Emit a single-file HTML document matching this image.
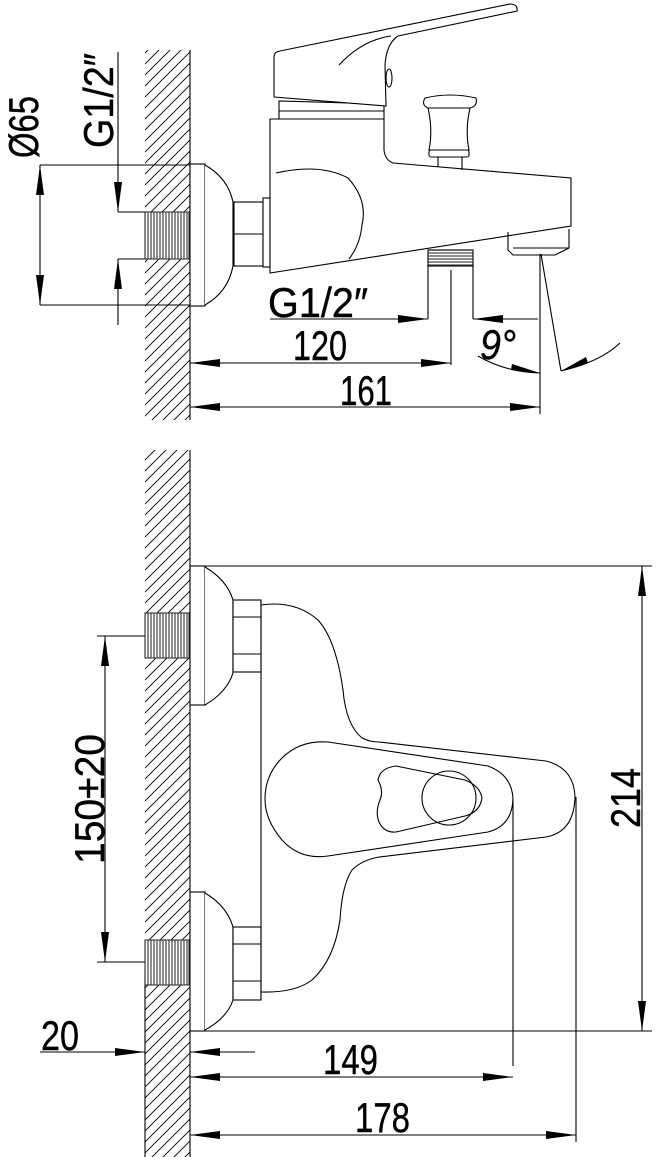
<!DOCTYPE html>
<html><head><meta charset="utf-8"><style>
html,body{margin:0;padding:0;background:#fff;}
svg{display:block;}
text{font-family:"Liberation Sans Narrow","Liberation Sans",sans-serif;fill:#000;stroke:#000;stroke-width:0.4;}
</style></head><body>
<svg width="657" height="1157" viewBox="0 0 657 1157" xmlns="http://www.w3.org/2000/svg">
<defs>
<pattern id="hatch" patternUnits="userSpaceOnUse" width="11" height="11">
<path d="M-1,12 L12,-1 M-6,6 L6,-6 M5,17 L17,5" stroke="#000" stroke-width="0.9"/>
</pattern>
<pattern id="thr" patternUnits="userSpaceOnUse" width="3" height="3">
<rect width="3" height="3" fill="#fff"/>
<path d="M1,0 V3" stroke="#444" stroke-width="1.2"/>
</pattern>
<pattern id="thrh" patternUnits="userSpaceOnUse" width="3" height="3">
<rect width="3" height="3" fill="#fff"/>
<path d="M0,1 H3" stroke="#444" stroke-width="1.2"/>
</pattern>
<marker id="ar" viewBox="0 0 30 8" refX="30" refY="4" markerWidth="30" markerHeight="8" markerUnits="userSpaceOnUse" orient="auto-start-reverse">
<path d="M0,0 L30,4 L0,8 Z" fill="#000"/>
</marker>
</defs>

<g fill="none" stroke="#000" stroke-width="1.1">
<!-- ===== TOP VIEW ===== -->
<rect x="145" y="50" width="45" height="370" fill="url(#hatch)" stroke="none"/>
<line x1="190" y1="50" x2="190" y2="420"/>
<rect x="145" y="212" width="44" height="47" fill="url(#thr)" stroke="#333"/>
<rect x="190" y="164" width="15" height="142" fill="#fff"/>
<path d="M205,165 Q228,178 233,202 L233,266 Q228,292 205,305" fill="#fff"/>
<rect x="234" y="202" width="29" height="64" fill="#fff"/>
<line x1="234" y1="234" x2="263" y2="234"/>
<rect x="263" y="198" width="7" height="69" fill="#fff"/>
<path d="M270,119 L270,273 L571,226 L571,178 L393,163 Q385,160 384,150 L384,119 Z" fill="#fff"/>
<path d="M276,173 Q320,163 348,178 Q368,200 362,225 Q360,245 349,259"/>
<path d="M279,119 L279,101 L384,104 L384,119"/>
<line x1="279" y1="111" x2="384" y2="111"/>
<path d="M274,97 L274,57 Q274,52 280,51 L510,4 Q518,4 517,11 L398,36 Q386,44 385,66 L386,106 Z" fill="#fff"/>
<path d="M339,65 Q362,40 391,36"/>
<ellipse cx="389" cy="78" rx="3" ry="9"/>
<path d="M425,98 Q450,92 476,98 Q478,106 470,108 L428,108 Q421,105 425,98 Z" fill="#fff"/>
<path d="M428,108 Q433,130 429,150 L469,150 Q465,130 470,108"/>
<rect x="429" y="150" width="40" height="7" rx="2"/>
<path d="M438,157 V167 M462,157 V170"/>
<rect x="428" y="250" width="45" height="16" fill="url(#thrh)"/>
<path d="M428,266 V319 M473,266 V319"/>
<line x1="451" y1="270" x2="451" y2="365"/>
<path d="M508,232 L508,250 L513,255 L555,255 L569,248 L569,229"/>
<line x1="513" y1="248" x2="569" y2="248"/>
<line x1="540" y1="254" x2="540" y2="414"/>
<line x1="541" y1="254" x2="561" y2="371"/>
<path d="M478,356 Q505,372 540,373 M561,371 Q600,362 620,343"/>
<polygon points="540,373 512,364 511,370" fill="#000" stroke="none"/>
<polygon points="561,371 586,357 588,363" fill="#000" stroke="none"/>
<line x1="270" y1="319" x2="428" y2="319" marker-end="url(#ar)"/>
<line x1="538" y1="319" x2="473" y2="319" marker-end="url(#ar)"/>
<line x1="190" y1="363" x2="451" y2="363" marker-start="url(#ar)" marker-end="url(#ar)"/>
<line x1="190" y1="407" x2="540" y2="407" marker-start="url(#ar)" marker-end="url(#ar)"/>
<line x1="40" y1="165" x2="190" y2="165"/>
<line x1="40" y1="305" x2="190" y2="305"/>
<line x1="40" y1="165" x2="40" y2="305" marker-start="url(#ar)" marker-end="url(#ar)"/>
<line x1="118" y1="52" x2="118" y2="212" marker-end="url(#ar)"/>
<line x1="118" y1="325" x2="118" y2="259" marker-end="url(#ar)"/>
<line x1="118" y1="212" x2="145" y2="212"/>
<line x1="118" y1="259" x2="145" y2="259"/>

<!-- ===== BOTTOM VIEW ===== -->
<rect x="145" y="450" width="45" height="707" fill="url(#hatch)" stroke="none"/>
<line x1="190" y1="450" x2="190" y2="1157"/>
<line x1="145" y1="970" x2="145" y2="1157"/>
<rect x="145" y="613" width="44" height="45" fill="url(#thr)" stroke="#333"/>
<rect x="145" y="940" width="44" height="45" fill="url(#thr)" stroke="#333"/>
<line x1="190" y1="566" x2="652" y2="566"/>
<line x1="190" y1="1031" x2="652" y2="1031"/>
<rect x="190" y="566" width="15" height="139" fill="#fff"/>
<path d="M205,567 Q227,580 233,600 L233,673 Q227,692 205,705" fill="#fff"/>
<rect x="190" y="892" width="15" height="139" fill="#fff"/>
<path d="M205,893 Q227,906 233,927 L233,1000 Q227,1018 205,1030" fill="#fff"/>
<rect x="233" y="600" width="28" height="72"/>
<path d="M233,617 H261 M233,654 H261"/>
<rect x="233" y="927" width="28" height="73"/>
<path d="M233,944 H261 M233,981 H261"/>
<line x1="261" y1="600" x2="261" y2="999"/>
<path d="M261,605 Q295,600 318,620 Q336,640 343,690 Q346,725 362,738 Q370,742 379,742 L546,761 Q574,768 575,797 Q574,832 546,837 L379,857 Q362,860 352,870 Q342,885 340,920 Q334,960 312,980 Q295,993 261,992"/>
<path d="M328,742 L488,766 Q512,775 513,799 Q512,826 488,832 L328,856 Q300,860 282,840 Q265,820 265,799 Q265,775 282,758 Q300,740 328,742 Z"/>
<path d="M396,766 L465,780 Q480,786 482,798 Q480,812 465,816 L396,832 Q384,833 379,822 Q375,812 380,800 Q384,791 378,780 Q380,768 396,766 Z"/>
<circle cx="449" cy="798" r="27"/>
<line x1="513" y1="799" x2="513" y2="1066"/>
<line x1="576" y1="797" x2="576" y2="1142"/>
<line x1="642" y1="566" x2="642" y2="1031" marker-start="url(#ar)" marker-end="url(#ar)"/>
<line x1="97" y1="636" x2="145" y2="636"/>
<line x1="97" y1="962" x2="145" y2="962"/>
<line x1="105" y1="636" x2="105" y2="962" marker-start="url(#ar)" marker-end="url(#ar)"/>
<line x1="40" y1="1052" x2="145" y2="1052" marker-end="url(#ar)"/>
<line x1="255" y1="1052" x2="190" y2="1052" marker-end="url(#ar)"/>
<line x1="190" y1="1077" x2="513" y2="1077" marker-start="url(#ar)" marker-end="url(#ar)"/>
<line x1="190" y1="1135" x2="576" y2="1135" marker-start="url(#ar)" marker-end="url(#ar)"/>
</g>

<g font-size="42">
<text x="268" y="317" textLength="100" lengthAdjust="spacingAndGlyphs">G1/2″</text>
<text x="293" y="360" textLength="54" lengthAdjust="spacingAndGlyphs">120</text>
<text x="340" y="405" textLength="52" lengthAdjust="spacingAndGlyphs">161</text>
<text x="480" y="359" textLength="36" lengthAdjust="spacingAndGlyphs" font-style="italic">9°</text>
<text transform="translate(38,158) rotate(-90)" textLength="62" lengthAdjust="spacingAndGlyphs">Ø65</text>
<text transform="translate(113,148) rotate(-90)" textLength="95" lengthAdjust="spacingAndGlyphs">G1/2″</text>
<text transform="translate(104,864) rotate(-90)" textLength="130" lengthAdjust="spacingAndGlyphs">150±20</text>
<text transform="translate(640,828) rotate(-90)" textLength="60" lengthAdjust="spacingAndGlyphs">214</text>
<text x="41" y="1050" textLength="38" lengthAdjust="spacingAndGlyphs">20</text>
<text x="323" y="1074" textLength="55" lengthAdjust="spacingAndGlyphs">149</text>
<text x="355" y="1132" textLength="55" lengthAdjust="spacingAndGlyphs">178</text>
</g>
</svg>
</body></html>
